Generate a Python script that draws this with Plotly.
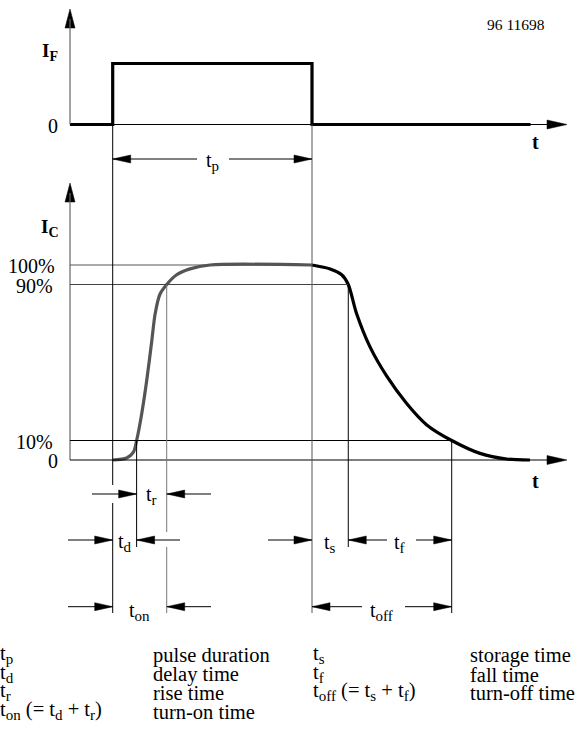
import plotly.graph_objects as go

# ---------------- data ----------------
pulse_t = [0.0, 10.0]          # I_F pulse switched on / off  (t_p = 10 time units)
pulse_high = 1.0
ic_rise_t   = [0.0, 0.7, 1.04, 1.2, 1.46, 1.71, 1.96, 2.13, 2.37, 2.71, 3.21, 3.88, 4.88, 10.0]
ic_rise_pct = [0,   1,   4,    10,  24,   41,   61,   75,   85,   90,   95,   98,   100,  100]
ic_fall_t   = [10.0, 10.91, 11.49, 11.82, 12.24, 12.91, 13.75, 14.75, 15.76, 17.01, 18.43, 19.77, 20.94]
ic_fall_pct = [100,  98,    95,    90,    75,    58,    43,    29,    18,    10,    3.4,   0.5,   0]
ic_levels       = [100, 90, 10, 0]
ic_level_labels = ["100%", "90%", "10%", "0"]
t_rise10, t_rise90 = 1.2, 2.71
t_fall90, t_fall10 = 11.82, 17.01

legend_sym_left   = [("t", "p", ""), ("t", "d", ""), ("t", "r", ""), ("t", "on", " (= t<S>d</S> + t<S>r</S>)")]
legend_desc_left  = ["pulse duration", "delay time", "rise time", "turn-on time"]
legend_sym_right  = [("t", "s", ""), ("t", "f", ""), ("t", "off", " (= t<S>s</S> + t<S>f</S>)")]
legend_desc_right = ["storage time", "fall time", "turn-off time"]
figure_id = "96 11698"

# ---------------- geometry (pixels) ----------------
W, H = 584, 742
X_T0, KX = 112.7, 19.93      # pixel of t=0, pixels per time unit
YF_0, KF = 124.5, 61.0       # pixel of I_F = 0, pixels per unit
YC_0, KC = 460.0, 1.95       # pixel of I_C = 0, pixels per percent
AX_X = 70.0
X_TIP = 567.0
TOP_TIP, BOT_TIP = 9.0, 183.0
CURVE_END_PX = 530.5
ROW_TP, ROW_TR, ROW_TD, ROW_TON = 159.0, 494.0, 540.0, 606.7
FONT = "Liberation Serif"
SUB_PX = 15


def sub(s, px=SUB_PX):
    return "<sub><span style='font-size:%dpx'>%s</span></sub>" % (px, s)


def symtext(main, s, rest=""):
    txt = main + sub(s)
    return txt + rest.replace("<S>", "<sub><span style='font-size:%dpx'>" % SUB_PX).replace("</S>", "</span></sub>")


def T(px):
    return (px - X_T0) / KX


def XP(t):
    return X_T0 + t * KX


def F(py):
    return (YF_0 - py) / KF


def C(py):
    return (YC_0 - py) / KC


def YPC(v):
    return YC_0 - v * KC


def YPF(v):
    return YF_0 - v * KF


fig = go.Figure()
shapes = []
annotations = []


def line(x0, y0, x1, y1, yref, color="black", width=1.0):
    shapes.append(dict(type="line", xref="x", yref=yref, x0=x0, y0=y0, x1=x1, y1=y1,
                       line=dict(color=color, width=width), layer="above"))


def tri(tip_px, tip_py, d, yref, length=18.0, half=4.0, color="black"):
    if d == "r":
        pts = [(tip_px, tip_py), (tip_px - length, tip_py - half), (tip_px - length, tip_py + half)]
    elif d == "l":
        pts = [(tip_px, tip_py), (tip_px + length, tip_py - half), (tip_px + length, tip_py + half)]
    else:  # up
        pts = [(tip_px, tip_py), (tip_px - half, tip_py + length), (tip_px + half, tip_py + length)]
    pts.append(pts[0])
    conv = F if yref == "y" else C
    fig.add_trace(go.Scatter(x=[T(p[0]) for p in pts], y=[conv(p[1]) for p in pts],
                             mode="lines", fill="toself", fillcolor=color,
                             line=dict(color=color, width=0.5),
                             yaxis="y" if yref == "y" else "y2",
                             hoverinfo="skip", showlegend=False))


def label(px, py, text, size=20, xanchor="center", yanchor="middle", bold=False, color="black"):
    if bold:
        text = "<b>" + text + "</b>"
    annotations.append(dict(x=px / W, y=1 - py / H, xref="paper", yref="paper", text=text,
                            showarrow=False, xanchor=xanchor, yanchor=yanchor,
                            borderpad=0, borderwidth=0,
                            font=dict(family=FONT, size=size, color=color)))


# ---------- top panel: I_F ----------
t_ax = T(AX_X)
line(t_ax, 0, t_ax, F(TOP_TIP + 10), "y", color="#666666", width=1.2)
tri(AX_X, TOP_TIP, "u", "y", length=19, half=5)
line(t_ax, 0, T(X_TIP - 5), 0, "y", width=1.2)
tri(X_TIP, YF_0, "r", "y", length=20, half=4.5)
fig.add_trace(go.Scatter(
    x=[t_ax, pulse_t[0], pulse_t[0], pulse_t[1], pulse_t[1], T(CURVE_END_PX)],
    y=[0, 0, pulse_high, pulse_high, 0, 0],
    mode="lines", line=dict(color="black", width=3.2), yaxis="y",
    hoverinfo="skip", showlegend=False))

# ---------- bottom panel: I_C ----------
line(t_ax, 0, t_ax, C(BOT_TIP + 10), "y2", color="#666666", width=1.2)
tri(AX_X, BOT_TIP, "u", "y2", length=19, half=5)
line(t_ax, 0, T(X_TIP - 5), 0, "y2", width=1.2)
tri(X_TIP, YC_0, "r", "y2", length=20, half=4.5)
line(t_ax, 100, pulse_t[1], 100, "y2", color="#555555", width=1)
line(t_ax, 90, t_fall90, 90, "y2", color="#444444", width=1)
line(t_ax, 10, t_fall10, 10, "y2", width=1)

# vertical guide lines (pixel extents for where they stop)
top_c = C(YPF(0))
line(pulse_t[0], top_c, pulse_t[0], C(485), "y2", width=1)
line(pulse_t[0], C(503), pulse_t[0], C(613), "y2", width=1)
line(pulse_t[1], top_c, pulse_t[1], C(613), "y2", color="#555555", width=1)
line(t_rise10, 10, t_rise10, C(547), "y2", width=1)
line(t_rise90, 90, t_rise90, C(532), "y2", color="#777777", width=1)
line(t_rise90, C(547), t_rise90, C(613), "y2", color="#777777", width=1)
line(t_fall90, 90, t_fall90, C(547), "y2", width=1)
line(t_fall10, 10, t_fall10, C(613), "y2", width=1)

fig.add_trace(go.Scatter(x=ic_rise_t, y=ic_rise_pct, mode="lines",
                         line=dict(color="#555555", width=3.2, shape="spline", smoothing=0.8),
                         yaxis="y2", hoverinfo="skip", showlegend=False))
fig.add_trace(go.Scatter(x=ic_fall_t, y=ic_fall_pct, mode="lines",
                         line=dict(color="black", width=3.2, shape="spline", smoothing=0.8),
                         yaxis="y2", hoverinfo="skip", showlegend=False))


# ---------- dimension arrows ----------
def dim(tip_t, d, tail_px, row_py, yref):
    conv = F if yref == "y" else C
    tip_px = XP(tip_t)
    line(tip_t, conv(row_py), T(tail_px), conv(row_py), yref, width=1)
    tri(tip_px, row_py, d, yref)


dim(pulse_t[0], "l", 197, ROW_TP, "y")
dim(pulse_t[1], "r", 229, ROW_TP, "y")
dim(t_rise10, "r", 92, ROW_TR, "y2")
dim(t_rise90, "l", 211, ROW_TR, "y2")
dim(pulse_t[0], "r", 68, ROW_TD, "y2")
dim(t_rise10, "l", 180, ROW_TD, "y2")
dim(pulse_t[0], "r", 68, ROW_TON, "y2")
dim(t_rise90, "l", 211, ROW_TON, "y2")
dim(pulse_t[1], "r", 268, ROW_TD, "y2")
dim(t_fall90, "l", 387, ROW_TD, "y2")
dim(t_fall10, "r", 416, ROW_TD, "y2")
dim(pulse_t[1], "l", 362, ROW_TON, "y2")
dim(t_fall10, "r", 405, ROW_TON, "y2")

# dimension labels
label((XP(pulse_t[0]) + XP(pulse_t[1])) / 2, ROW_TP + 15, symtext("t", "p"), 20, yanchor="bottom")
label((XP(t_rise10) + XP(t_rise90)) / 2, ROW_TR + 14, symtext("t", "r"), 20, yanchor="bottom")
label((XP(pulse_t[0]) + XP(t_rise10)) / 2, ROW_TD + 15, symtext("t", "d"), 20, yanchor="bottom")
label((XP(pulse_t[0]) + XP(t_rise90)) / 2, ROW_TON + 17, symtext("t", "on"), 20, yanchor="bottom")
label((XP(pulse_t[1]) + XP(t_fall90)) / 2, ROW_TD + 16, symtext("t", "s"), 20, yanchor="bottom")
label((XP(t_fall90) + XP(t_fall10)) / 2, ROW_TD + 16, symtext("t", "f"), 20, yanchor="bottom")
label((XP(pulse_t[1]) + XP(t_fall10)) / 2, ROW_TON + 17, symtext("t", "off"), 20, yanchor="bottom")

# axis labels
label(50, 52, "I" + sub("F", 14), 19, bold=True)
label(58, YPF(0) + 1, "0", 20, xanchor="right")
label(535, 142, "t", 20, bold=True)
label(50, 228, "I" + sub("C", 14), 19, bold=True)
level_right = [55, 53, 53, 58]
for lv, lab, xr in zip(ic_levels, ic_level_labels, level_right):
    label(xr, YPC(lv) + 1, lab, 20, xanchor="right")
label(535, 481, "t", 20, bold=True)
label(516, 24, figure_id, 15.5)

# legend table
row_base = [667, 685.5, 704, 722.5]
for i, (s, dsc) in enumerate(zip(legend_sym_left, legend_desc_left)):
    label(0, row_base[i], symtext(*s), 20.5, xanchor="left", yanchor="bottom")
    label(153, row_base[i], dsc, 20.5, xanchor="left", yanchor="bottom")
for i, (s, dsc) in enumerate(zip(legend_sym_right, legend_desc_right)):
    label(313, row_base[i], symtext(*s), 20.5, xanchor="left", yanchor="bottom")
    label(470, row_base[i], dsc, 20.5, xanchor="left", yanchor="bottom")

fig.update_layout(
    width=W, height=H, autosize=False,
    margin=dict(l=0, r=0, t=0, b=0),
    paper_bgcolor="white", plot_bgcolor="white",
    showlegend=False, hovermode=False,
    xaxis=dict(range=[T(0), T(W)], visible=False, fixedrange=True),
    yaxis=dict(range=[F(H), F(0)], visible=False, fixedrange=True),
    yaxis2=dict(range=[C(H), C(0)], visible=False, fixedrange=True, overlaying="y"),
    shapes=shapes, annotations=annotations,
)

fig.write_html("out.html", config={"displayModeBar": False},
               post_script="document.body.style.margin='0';document.body.style.padding='0';")
